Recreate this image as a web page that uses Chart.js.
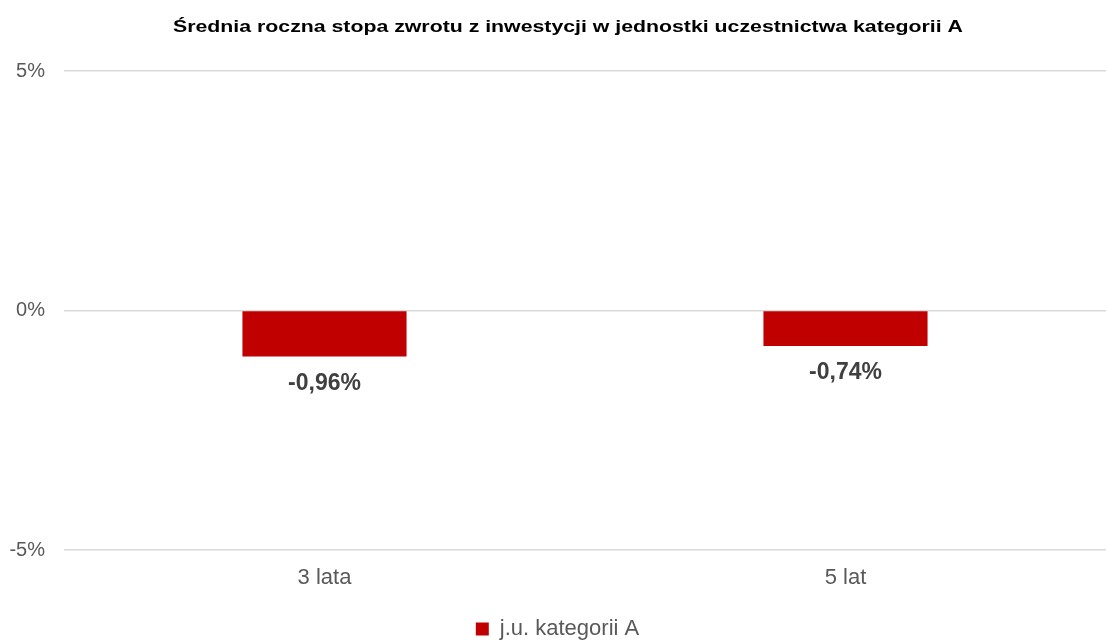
<!DOCTYPE html>
<html>
<head>
<meta charset="utf-8">
<script src="https://cdn.jsdelivr.net/npm/chart.js@4/dist/chart.umd.min.js"></script>
<style>
  html, body { margin: 0; padding: 0; background: #fff; overflow: hidden; }
  #wrap { width: 1106px; height: 642px; }
</style>
</head>
<body>
<div id="wrap"><canvas id="chart"></canvas></div>
<script>
const chartTitle = 'Średnia roczna stopa zwrotu z inwestycji w jednostki uczestnictwa kategorii A';
const categories = ['3 lata', '5 lat'];
const seriesName = 'j.u. kategorii A';
const returns = [-0.96, -0.74];
const yTicks = [-5, 0, 5];

const FONT = '"Liberation Sans", Arial, sans-serif';

// title in the original is drawn wide, so stretch it a bit
const wideTitle = {
  id: 'wideTitle',
  afterDraw(chart) {
    const ctx = chart.ctx;
    ctx.save();
    ctx.font = 'bold 16px ' + FONT;
    ctx.fillStyle = '#000';
    ctx.textAlign = 'center';
    ctx.textBaseline = 'middle';
    ctx.translate(568, 28);
    ctx.scale(1.33, 1);
    ctx.fillText(chartTitle, 0, 0);
    ctx.restore();
  }
};

// labels under the bars, like excel data labels
const barLabels = {
  id: 'barLabels',
  afterDatasetsDraw(chart) {
    const ctx = chart.ctx;
    const meta = chart.getDatasetMeta(0);
    ctx.save();
    ctx.font = 'bold 23px ' + FONT;
    ctx.fillStyle = '#404040';
    ctx.textAlign = 'center';
    ctx.textBaseline = 'middle';
    meta.data.forEach((bar, i) => {
      const v = returns[i];
      const txt = v.toFixed(2).replace('.', ',') + '%';
      const y = v < 0 ? bar.y + 27 : bar.y - 27;
      ctx.fillText(txt, bar.x, y);
    });
    ctx.restore();
  }
};

new Chart('chart', {
  type: 'bar',
  data: {
    labels: categories,
    datasets: [{
      label: seriesName,
      data: returns,
      backgroundColor: '#C00000',
      borderWidth: 0,
      categoryPercentage: 0.63,
      barPercentage: 0.5
    }]
  },
  options: {
    responsive: true,
    maintainAspectRatio: false,
    animation: false,
    layout: { padding: { left: 9, right: 0, top: 71, bottom: -8 } },
    plugins: {
      title: { display: false },
      legend: {
        position: 'bottom',
        labels: {
          color: '#595959',
          font: { family: FONT, size: 22 },
          boxWidth: 13,
          boxHeight: 13,
          padding: 4
        }
      },
      tooltip: { enabled: false }
    },
    scales: {
      x: {
        grid: { display: false },
        border: { display: false },
        afterFit(axis) { axis.height = 64; },
        ticks: {
          color: '#595959',
          font: { family: FONT, size: 22 },
          padding: 7
        }
      },
      y: {
        min: -5,
        max: 5,
        afterBuildTicks(axis) { axis.ticks = yTicks.map(v => ({ value: v })); },
        afterFit(axis) { axis.width = 55; },
        grid: { color: '#d9d9d9', lineWidth: 1.5, drawTicks: false },
        border: { display: false },
        ticks: {
          color: '#595959',
          font: { family: FONT, size: 20 },
          padding: 19,
          callback: v => v + '%'
        }
      }
    }
  },
  plugins: [barLabels, wideTitle]
});
</script>
</body>
</html>
